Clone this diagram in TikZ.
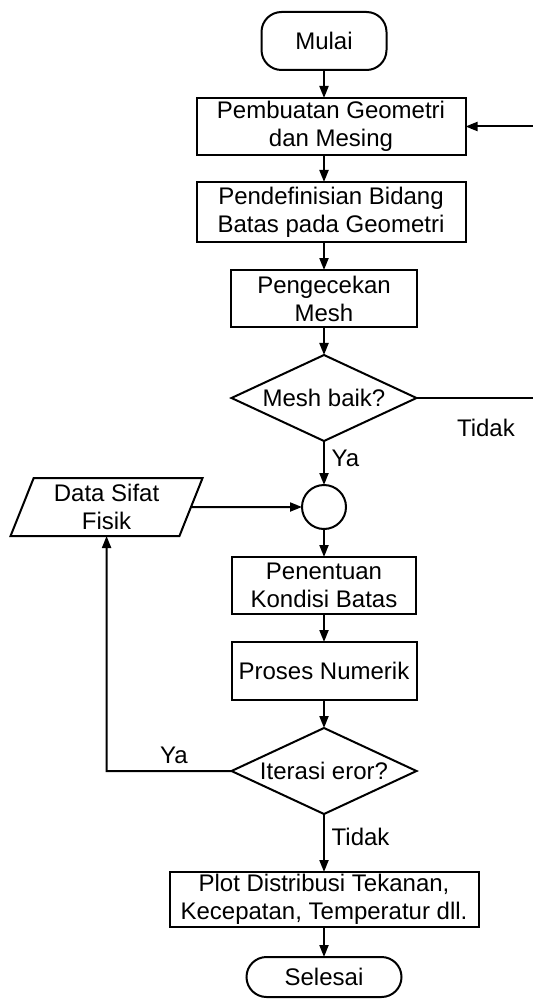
\documentclass[tikz,border=0pt]{standalone}
\usepackage{fontspec}
\setmainfont{Liberation Sans}
\usetikzlibrary{shapes.geometric, arrows.meta, positioning}

\begin{document}
\begin{tikzpicture}[
    node distance=14pt,
    font=\fontsize{12}{14}\selectfont,
    box/.style={draw, rectangle, line width=1pt, outer sep=0pt, align=center, minimum height=28.5pt, inner xsep=2pt, inner ysep=1pt},
    term/.style={draw, rectangle, rounded corners=10pt, line width=1pt, outer sep=0pt, align=center},
    decision/.style={draw, diamond, aspect=2.2, inner sep=0pt, outer sep=0pt, minimum width=92.5pt, minimum height=43pt, line width=1pt, align=center},
    io/.style={draw, trapezium, trapezium left angle=65, trapezium right angle=115, trapezium stretches body, minimum width=96pt, minimum height=29pt, inner sep=1pt, outer sep=0pt, line width=1pt, align=center},
    joint/.style={draw, circle, minimum size=22pt, inner sep=0pt, outer sep=0pt, line width=1pt},
    arrow/.style={-{Triangle[length=6pt, width=4.5pt]}, line width=1pt}
]
\useasboundingbox (0,0) rectangle (266pt,-500pt);

% Main flow
\node[term, minimum width=62.5pt, minimum height=29pt] (mulai) at (162pt,-20.5pt) {Mulai};
\node[box, below=of mulai, xshift=3.5pt, minimum width=134.5pt] (geom) {Pembuatan Geometri\\dan Mesing};
\node[box, below=13.5pt of geom, minimum width=134.5pt, minimum height=30pt] (batas) {Pendefinisian Bidang\\Batas pada Geometri};
\node[box, below=of batas, xshift=-3.5pt, minimum width=93pt] (cek) {Pengecekan\\Mesh};
\node[decision, below=of cek] (mesh) {Mesh baik?};
\node[joint, below=22pt of mesh] (gabung) {};
\node[box, below=of gabung, minimum width=92pt] (kondisi) {Penentuan\\Kondisi Batas};
\node[box, below=of kondisi, minimum width=92.5pt, minimum height=29pt] (numerik) {Proses Numerik};
\node[decision, below=of numerik] (iterasi) {Iterasi eror?};
\node[box, below=29pt of iterasi, minimum width=154.5pt, minimum height=27.5pt] (plot) {Plot Distribusi Tekanan,\\Kecepatan, Temperatur dll.};
\node[term, below=15pt of plot, minimum width=77.5pt, minimum height=20pt] (selesai) {Selesai};

% Input data
\node[io, left=55.5pt of gabung] (data) {Data Sifat\\Fisik};

\draw[arrow] (mulai) -- (mulai |- geom.north);
\draw[arrow] (geom.south -| mulai) -- (mulai |- batas.north);
\draw[arrow] (batas.south -| cek) -- (cek);
\draw[arrow] (cek) -- (mesh);
\draw[arrow] (mesh) -- node[right, pos=.4] {Ya} (gabung);
\draw[arrow] (gabung) -- (kondisi);
\draw[arrow] (kondisi) -- (numerik);
\draw[arrow] (numerik) -- (iterasi);
\draw[arrow] (iterasi) -- node[right, pos=.4] {Tidak} (plot);
\draw[arrow] (plot) -- (selesai);

% Loops back
\draw[arrow] (mesh.east) -- node[pos=.56, below=6.5pt] {Tidak} ++(62pt,0) |- (geom.east);
\draw[arrow] (data) -- (gabung);
\draw[arrow] (iterasi.west) -- node[pos=.46, above] {Ya} (data |- iterasi.west) -- (data);
\end{tikzpicture}
\end{document}
